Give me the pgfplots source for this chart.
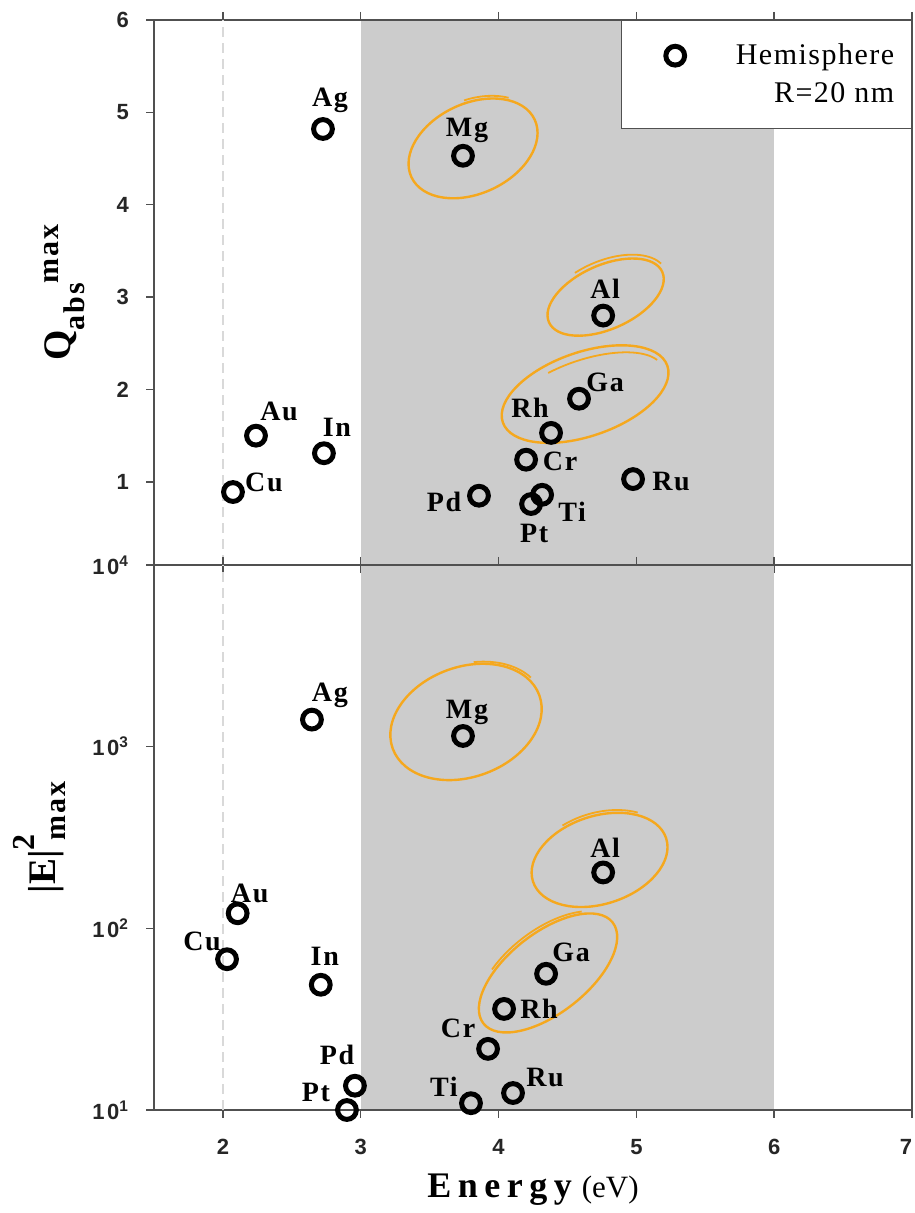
\documentclass[border=0pt]{standalone}
\usepackage{fontspec}
\setmainfont{Liberation Serif}
\newfontfamily\tickfont[LetterSpace=12]{Liberation Sans}
\newfontfamily\tagfont[LetterSpace=6]{Liberation Serif}
\newfontfamily\wideserif[LetterSpace=18]{Liberation Serif}
\newfontfamily\legfont[LetterSpace=5]{Liberation Serif}
\usepackage{pgfplots}
\usepackage{pgfplotstable}
\pgfplotsset{compat=1.18}

\definecolor{penorange}{RGB}{245,168,30}
\definecolor{axisgray}{RGB}{80,80,80}

% peak absorption efficiency: energy (eV), Q, label offsets (pt)
\pgfplotstableread{
name x     y    dx    dy
Ag   2.726 4.82  3.5  14.5
Mg   3.742 4.53  2.0  12.5
Al   4.759 2.80  1.0  13.5
Ga   4.584 1.90  13.0  8.0
Rh   4.381 1.53 -10.5 12.5
Cr   4.200 1.24  17.0 -1.0
Ru   4.976 1.03  19.0 -1.0
Ti   4.316 0.86  15.0 -8.5
Pt   4.236 0.76  1.5 -14.5
Pd   3.858 0.85 -17.5 -3.0
Au   2.240 1.50  11.5 12.0
In   2.733 1.31  6.5  13.0
Cu   2.073 0.89  15.5  5.0
}\qabs

% peak near-field enhancement |E|^2: energy (eV), value, label offsets (pt)
\pgfplotstableread{
name x     y     dx    dy
Ag   2.646 1409   9.0  12.0
Mg   3.742 1145   2.0  12.0
Al   4.759 203    1.0  12.5
Ga   4.345 56.2   12.5 10.5
Rh   4.040 36.0   17.5  0.0
Cr   3.924 21.7  -15.0 10.5
Ru   4.105 12.4   16.0  8.0
Ti   3.800 10.9  -13.5  8.0
Pd   2.958 13.6   -9.0 15.5
Pt   2.900 10.0  -15.5  9.0
In   2.710 48.9    2.0 14.0
Au   2.107 121     6.0 10.0
Cu   2.030 67.6  -12.5  9.0
}\efield

\tikzset{
  handloop/.style={draw=penorange, line width=1.2pt},
}

% hand-drawn style ring: centre, a, b (pt), tilt; plus a second overlapping stroke
\newcommand{\ring}[8]{%
  \draw[handloop] (#1) ellipse [x radius=#2pt, y radius=#3pt, rotate=#4];
  \begin{scope}[shift={(#1)}, rotate=#4]
    \draw[handloop, line width=0.9pt] (#7:#5pt and #6pt) arc[start angle=#7, end angle=#8, x radius=#5pt, y radius=#6pt];
  \end{scope}}

\pgfplotsset{
  panel/.style={
    scale only axis, width=379pt, height=272.5pt,
    xmin=1.5, xmax=7,
    axis line style={axisgray, line width=0.7pt},
    tick style={axisgray, line width=0.7pt},
    tick align=outside, major tick length=4pt,
    xtick={2,...,7}, xtick pos=both, ytick pos=left,
    ticklabel style={font=\tickfont\bfseries\fontsize{11}{13}\selectfont, text=black!85},
    yticklabel style={xshift=-5pt},
    xticklabel style={yshift=-7pt},
    every axis y label/.style={rotate=90, anchor=center},
    every axis x label/.style={anchor=center},
    clip=false,
    axis on top,
    extra x ticks={2}, extra x tick labels={},
    extra x tick style={grid=major, major tick length=0pt,
      major grid style={dash pattern=on 5pt off 3pt, black!15, line width=0.6pt}},
  },
  elements/.style={only marks, mark=o, mark size=4.7pt, line width=2.5pt, black,
    point meta=explicit symbolic,
    visualization depends on={\thisrow{dx}\as\dx},
    visualization depends on={\thisrow{dy}\as\dy},
    nodes near coords,
    nodes near coords style={anchor=center, inner sep=0pt, xshift=\dx pt, yshift=\dy pt,
      font=\tagfont\bfseries\fontsize{14}{16}\selectfont, text=black}},
  markimage/.style={legend image code/.code={%
    \draw[##1] plot coordinates {(0.6cm,0cm)};
    \path (0cm,0cm) (1.2cm,0cm);}},
  band/.style={fill=black!20, draw=none, forget plot},
}

\begin{document}
\begin{tikzpicture}
\useasboundingbox (0,0) rectangle (457pt,606.5pt);

% upper panel: absorption efficiency
\begin{axis}[panel, at={(77pt,324pt)}, anchor=south west,
  ymin=0.1, ymax=6, ytick={1,...,6}, yticklabels={1,2,3,4,5,6},
  xticklabels={},
  ylabel={\fontsize{19.5}{22}\selectfont\bfseries Q\raisebox{-7pt}{\tagfont\fontsize{15}{17}\selectfont abs}\raisebox{6pt}{\tagfont\fontsize{15}{17}\selectfont max}},
  ylabel style={at={(axis description cs:-0.1174,0.5)}},
  legend style={at={(1,1)}, anchor=north east, draw=axisgray, line width=0.7pt, fill=white,
    inner xsep=8.5pt, inner ysep=10pt, row sep=4pt, column sep=12pt,
    font=\legfont\fontsize{15}{17}\selectfont,
    nodes={inner sep=0pt, text height=12pt, text depth=3pt}},
  legend cell align=right,
]
\addplot[band] coordinates {(3,0.1) (6,0.1) (6,6) (3,6)} -- cycle;
\addplot[elements, markimage] table[x=x, y=y, meta=name] {\qabs};
\addlegendentry{Hemisphere}
\addlegendimage{empty legend}
\addlegendentry{R=20 nm}
\ring{axis cs:3.815,4.61}{34}{22.5}{25}{35}{24}{40}{80}
\ring{axis cs:4.777,3.00}{31}{16}{24}{33}{18}{13}{106}
\ring{axis cs:4.628,1.95}{43.5}{21}{19}{41}{17}{15}{110}
\end{axis}

% lower panel: field enhancement
\begin{axis}[panel, at={(77pt,51.5pt)}, anchor=south west,
  ymode=log, ymin=10, ymax=10000, ytick={10,100,1000,10000},
  yticklabels={10\textsuperscript{1},10\textsuperscript{2},10\textsuperscript{3},10\textsuperscript{4}},
  yminorticks=false,
  xticklabels={2,3,4,5,6,\makebox[0pt][r]{7}},
  xlabel={{\wideserif\bfseries\fontsize{18}{20}\selectfont Energy}\hspace{5pt}{\fontsize{15.5}{20}\selectfont(eV)}},
  xlabel style={at={(axis description cs:0.5,-0.1468)}},
  ylabel={\fontsize{19.5}{22}\selectfont\bfseries |E|\raisebox{10.5pt}{\fontsize{16}{18}\selectfont 2}\kern-3pt\raisebox{-5pt}{\tagfont\fontsize{15}{17}\selectfont max}},
  ylabel style={at={(axis description cs:-0.1504,0.5)}},
]
\addplot[band] coordinates {(3,10) (6,10) (6,10000) (3,10000)} -- cycle;
\addplot[elements] table[x=x, y=y, meta=name] {\efield};
\ring{axis cs:3.764,1368}{39}{27.5}{20}{40.5}{28.5}{20}{70}
\ring{axis cs:4.733,238}{35}{22}{18}{36}{23.5}{45}{110}
\ring{axis cs:4.359,56.8}{41}{20}{38}{42}{21.5}{40}{120}
\end{axis}
\end{tikzpicture}
\end{document}
